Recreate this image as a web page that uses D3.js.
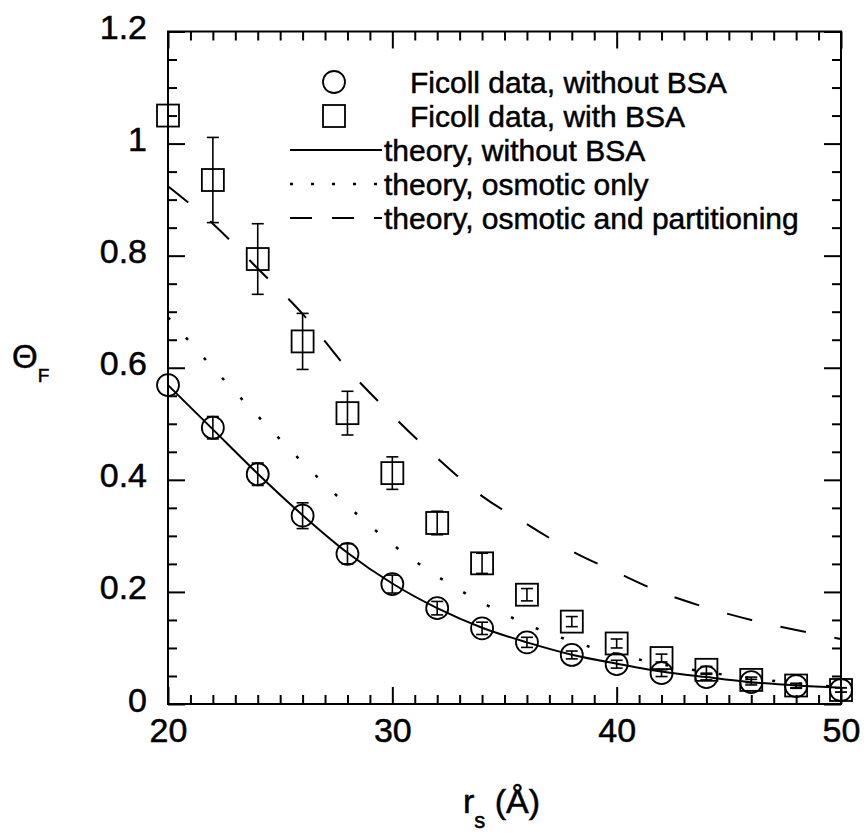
<!DOCTYPE html>
<html>
<head>
<meta charset="utf-8">
<script src="https://cdn.jsdelivr.net/npm/d3@7"></script>
<style>
  body { margin: 0; background: #fff; }
  svg text { font-family: "Liberation Sans", Arial, Helvetica, sans-serif; fill: #000; stroke: #000; stroke-width: 0.5px; }
</style>
</head>
<body>
<div id="chart"></div>
<script>
// radius values (Å) for the data and theory curves
const radii = [20, 22, 24, 26, 28, 30, 32, 34, 36, 38, 40, 42, 44, 46, 48, 50];

// Ficoll data without BSA (circles)
const noBsa = [0.569, 0.493, 0.410, 0.336, 0.268, 0.214, 0.171, 0.135, 0.110, 0.0875, 0.071, 0.055, 0.048, 0.039, 0.032, 0.025];
const noBsaErr = [0, 0.02, 0.02, 0.023, 0.018, 0.016, 0.012, 0.011, 0.009, 0.007, 0.007, 0.006, 0.005, 0.005, 0.004, 0.004];

// Ficoll data with BSA (squares)
const withBsa = [1.05, 0.935, 0.794, 0.647, 0.519, 0.412, 0.323, 0.251, 0.195, 0.147, 0.108, 0.082, 0.061, 0.043, 0.033, 0.025];
const withBsaErr = [0, 0.076, 0.063, 0.05, 0.039, 0.029, 0.021, 0.018, 0.011, 0.009, 0.008, 0.007, 0.006, 0.005, 0.004, 0.004];

// theory curves
const theoryNoBsa = [0.569, 0.490, 0.411, 0.337, 0.270, 0.215, 0.171, 0.136, 0.110, 0.088, 0.072, 0.058, 0.048, 0.039, 0.033, 0.029];
const theoryOsmotic = [0.69, 0.60, 0.514, 0.431, 0.354, 0.285, 0.228, 0.181, 0.142, 0.112, 0.089, 0.071, 0.057, 0.046, 0.037, 0.030];
const theoryPartition = [0.924, 0.857, 0.777, 0.696, 0.598, 0.515, 0.439, 0.371, 0.321, 0.273, 0.235, 0.199, 0.172, 0.150, 0.132, 0.116];

// ticks
const xMajor = [20, 30, 40, 50];
const xTickLabels = ["20", "30", "40", "50"];
const yMajor = [0, 0.2, 0.4, 0.6, 0.8, 1.0, 1.2];
const yTickLabels = ["0", "0.2", "0.4", "0.6", "0.8", "1", "1.2"];

const legendLabels = [
  "Ficoll data, without BSA",
  "Ficoll data, with BSA",
  "theory, without BSA",
  "theory, osmotic only",
  "theory, osmotic and partitioning"
];

const width = 864, height = 833;
const margin = {top: 31.5, right: 23, bottom: 129, left: 168};

const svg = d3.select('#chart').append('svg')
    .attr('width', width)
    .attr('height', height);

svg.append('rect').attr('width', width).attr('height', height).attr('fill', '#fff');

const x = d3.scaleLinear().domain([20, 50]).range([margin.left, width - margin.right]);
const y = d3.scaleLinear().domain([0, 1.2]).range([height - margin.bottom, margin.top]);

const x0 = x.range()[0], x1 = x.range()[1];
const y0 = y.range()[0], y1 = y.range()[1];

// minor tick values
const xMinor = d3.range(21, 50).filter(d => d % 10 !== 0);
const yMinor = d3.range(1, 24).map(d => d * 0.05).filter((d, i) => (i + 1) % 4 !== 0);

function styleAxis(g) {
  g.select('.domain').remove();
  g.selectAll('line').attr('stroke', '#000').attr('stroke-width', 2);
  g.selectAll('text').style('font-size', '34px').attr('fill', '#000');
}

// left axis
svg.append('g')
    .attr('transform', `translate(${x0},0)`)
    .call(d3.axisLeft(y).tickValues(yMajor).tickSize(-17).tickPadding(21)
      .tickFormat((d, i) => yTickLabels[i]))
    .call(styleAxis)
    .call(g => g.selectAll('text').attr('dy', null).attr('y', 7));
svg.append('g')
    .attr('transform', `translate(${x0},0)`)
    .call(d3.axisLeft(y).tickValues(yMinor).tickSize(-9).tickFormat(''))
    .call(styleAxis);

// right axis
svg.append('g')
    .attr('transform', `translate(${x1},0)`)
    .call(d3.axisRight(y).tickValues(yMajor).tickSize(-17).tickFormat(''))
    .call(styleAxis);
svg.append('g')
    .attr('transform', `translate(${x1},0)`)
    .call(d3.axisRight(y).tickValues(yMinor).tickSize(-9).tickFormat(''))
    .call(styleAxis);

// bottom axis
svg.append('g')
    .attr('transform', `translate(0,${y0})`)
    .call(d3.axisBottom(x).tickValues(xMajor).tickSize(-17).tickPadding(14)
      .tickFormat((d, i) => xTickLabels[i]))
    .call(styleAxis);
svg.append('g')
    .attr('transform', `translate(0,${y0})`)
    .call(d3.axisBottom(x).tickValues(xMinor).tickSize(-9).tickFormat(''))
    .call(styleAxis);

// top axis
svg.append('g')
    .attr('transform', `translate(0,${y1})`)
    .call(d3.axisTop(x).tickValues(xMajor).tickSize(-17).tickFormat(''))
    .call(styleAxis);
svg.append('g')
    .attr('transform', `translate(0,${y1})`)
    .call(d3.axisTop(x).tickValues(xMinor).tickSize(-9).tickFormat(''))
    .call(styleAxis);

// frame
svg.append('rect')
    .attr('x', x0).attr('y', y1)
    .attr('width', x1 - x0).attr('height', y0 - y1)
    .attr('fill', 'none').attr('stroke', '#000').attr('stroke-width', 2);

// theory lines
const line = d3.line()
    .x((d, i) => x(radii[i]))
    .y(d => y(d))
    .curve(d3.curveMonotoneX);

svg.append('path').datum(theoryNoBsa)
    .attr('d', line).attr('fill', 'none').attr('stroke', '#000').attr('stroke-width', 2);
svg.append('path').datum(theoryOsmotic)
    .attr('d', line).attr('fill', 'none').attr('stroke', '#000').attr('stroke-width', 2.5)
    .attr('stroke-dasharray', '3,24');
svg.append('path').datum(theoryPartition)
    .attr('d', line).attr('fill', 'none').attr('stroke', '#000').attr('stroke-width', 2)
    .attr('stroke-dasharray', '26,29');

// error bars (skipped where the bar is hidden by the marker)
function errorBars(vals, errs) {
  const g = svg.append('g').attr('stroke', '#000').attr('stroke-width', 1.6);
  radii.forEach((r, i) => {
    if (!errs[i]) return;
    const cx = x(r), top = y(vals[i] + errs[i]), bot = y(vals[i] - errs[i]);
    g.append('line').attr('x1', cx).attr('x2', cx).attr('y1', top).attr('y2', bot);
    g.append('line').attr('x1', cx - 6).attr('x2', cx + 6).attr('y1', top).attr('y2', top);
    g.append('line').attr('x1', cx - 6).attr('x2', cx + 6).attr('y1', bot).attr('y2', bot);
  });
}
errorBars(noBsa, noBsaErr);
errorBars(withBsa, withBsaErr);

// markers
svg.append('g').selectAll('circle')
    .data(noBsa)
    .join('circle')
    .attr('cx', (d, i) => x(radii[i]))
    .attr('cy', d => y(d))
    .attr('r', 11)
    .attr('fill', 'none').attr('stroke', '#000').attr('stroke-width', 1.8);

svg.append('g').selectAll('rect')
    .data(withBsa)
    .join('rect')
    .attr('x', (d, i) => x(radii[i]) - 11)
    .attr('y', d => y(d) - 11)
    .attr('width', 22).attr('height', 22)
    .attr('fill', 'none').attr('stroke', '#000').attr('stroke-width', 1.8);

// legend
const legend = svg.append('g');
const rowY = [82, 116, 150, 184, 218];
legend.append('circle').attr('cx', 334).attr('cy', rowY[0]).attr('r', 11)
    .attr('fill', 'none').attr('stroke', '#000').attr('stroke-width', 1.8);
legend.append('rect').attr('x', 323).attr('y', rowY[1] - 11).attr('width', 22).attr('height', 22)
    .attr('fill', 'none').attr('stroke', '#000').attr('stroke-width', 1.8);
const legendDash = [null, '3,18', '22,20'];
[2, 3, 4].forEach((k, j) => {
  legend.append('line')
      .attr('x1', 290).attr('x2', 382)
      .attr('y1', rowY[k]).attr('y2', rowY[k])
      .attr('stroke', '#000')
      .attr('stroke-width', j === 1 ? 2.5 : 2)
      .attr('stroke-dasharray', legendDash[j]);
});
legend.selectAll('text')
    .data(legendLabels)
    .join('text')
    .attr('x', (d, i) => i < 2 ? 410 : 384)
    .attr('y', (d, i) => rowY[i] + 11)
    .style('font-size', '30px')
    .text(d => d);

// axis titles
const xt = svg.append('text').attr('x', 463).attr('y', 813).style('font-size', '34px');
xt.append('tspan').text('r');
xt.append('tspan').attr('dy', 15).style('font-size', '22px').text('s');
xt.append('tspan').attr('dy', -15).text(' (Å)');

const yt = svg.append('text').attr('x', 12).attr('y', 368).style('font-size', '33px');
yt.append('tspan').text('Θ');
yt.append('tspan').attr('dy', 14).style('font-size', '19px').text('F');
</script>
</body>
</html>
